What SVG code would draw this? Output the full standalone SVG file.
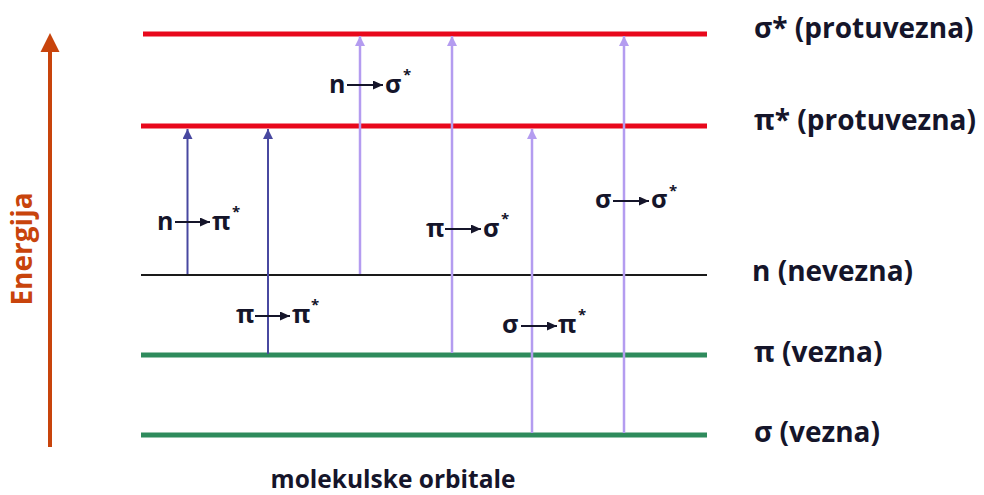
<svg xmlns="http://www.w3.org/2000/svg" width="984" height="495" viewBox="0 0 984 495">
<style>
  .lvl-red { stroke: #e8081c; stroke-width: 5; }
  .lvl-green { stroke: #2e8b5c; stroke-width: 5; }
  .lvl-black { stroke: #1a1a1a; stroke-width: 2; }
  .tr-dark { stroke: #4848a0; stroke-width: 2; fill: none; }
  .tr-light { stroke: #b49cf0; stroke-width: 2.5; fill: none; }
  .lbl { font-family: "Open Sans", "Liberation Sans", sans-serif; font-weight: bold; fill: #15152a; }
  .big { font-size: 28px; }
  .mid { font-size: 25px; }
  .star { font-size: 15px; }
  .mini { stroke: #15152a; stroke-width: 2; }
  .energy { font-family: "Open Sans", "Liberation Sans", sans-serif; font-weight: bold; font-size: 28px; fill: #c8440c; }
</style>
<defs>
  <marker id="headDark" markerUnits="userSpaceOnUse" markerWidth="10" markerHeight="10" refX="10" refY="5" orient="auto" viewBox="0 0 10 10">
    <path d="M0,0 L10,5 L0,10 z" fill="#4848a0"/>
  </marker>
  <marker id="headLight" markerUnits="userSpaceOnUse" markerWidth="10" markerHeight="10" refX="10" refY="5" orient="auto" viewBox="0 0 10 10">
    <path d="M0,0 L10,5 L0,10 z" fill="#b49cf0"/>
  </marker>
  <marker id="headMini" markerUnits="userSpaceOnUse" markerWidth="10" markerHeight="9" refX="10" refY="4.5" orient="auto" viewBox="0 0 10 9">
    <path d="M0,0 L10,4.5 L0,9 z" fill="#15152a"/>
  </marker>
</defs>

<g id="energy-axis">
  <line x1="50" y1="447" x2="50" y2="50" stroke="#c8440c" stroke-width="4"/>
  <path d="M50,33 L59.5,52 L40.5,52 z" fill="#c8440c"/>
  <text class="energy" transform="translate(32,249) rotate(-90)" text-anchor="middle">Energija</text>
</g>

<g id="level-sigma-star">
  <line class="lvl-red" x1="143" y1="34" x2="707" y2="34"/>
  <text class="lbl big" x="754" y="38">σ* (protuvezna)</text>
</g>
<g id="level-pi-star">
  <line class="lvl-red" x1="141" y1="126" x2="707" y2="126"/>
  <text class="lbl big" x="754" y="130">π* (protuvezna)</text>
</g>
<g id="level-n">
  <line class="lvl-black" x1="141" y1="275" x2="707" y2="275"/>
  <text class="lbl big" x="752" y="281">n (nevezna)</text>
</g>
<g id="level-pi">
  <line class="lvl-green" x1="141" y1="355" x2="707" y2="355"/>
  <text class="lbl big" x="754" y="362">π (vezna)</text>
</g>
<g id="level-sigma">
  <line class="lvl-green" x1="141" y1="435" x2="707" y2="435"/>
  <text class="lbl big" x="754" y="442">σ (vezna)</text>
</g>

<g id="connectors">
  <line class="tr-dark" x1="187.5" y1="274" x2="187.5" y2="129" marker-end="url(#headDark)"/>
  <line class="tr-dark" x1="268" y1="354" x2="268" y2="129" marker-end="url(#headDark)"/>
  <line class="tr-light" x1="360" y1="274" x2="360" y2="36" marker-end="url(#headLight)"/>
  <line class="tr-light" x1="452" y1="353" x2="452" y2="36" marker-end="url(#headLight)"/>
  <line class="tr-light" x1="532" y1="433" x2="532" y2="129" marker-end="url(#headLight)"/>
  <line class="tr-light" x1="624" y1="433" x2="624" y2="36" marker-end="url(#headLight)"/>
</g>

<g id="label-n-sigma">
  <text class="lbl mid" x="329" y="93">n</text>
  <line class="mini" x1="347" y1="85" x2="383" y2="85" marker-end="url(#headMini)"/>
  <text class="lbl mid" x="385" y="93">σ</text>
  <text class="lbl star" x="403" y="80">*</text>
</g>
<g id="label-n-pi">
  <text class="lbl mid" x="157" y="230">n</text>
  <line class="mini" x1="175" y1="222" x2="210" y2="222" marker-end="url(#headMini)"/>
  <text class="lbl mid" x="212" y="230">π</text>
  <text class="lbl star" x="232" y="217">*</text>
</g>
<g id="label-pi-sigma">
  <text class="lbl mid" x="426" y="237">π</text>
  <line class="mini" x1="445" y1="229" x2="481" y2="229" marker-end="url(#headMini)"/>
  <text class="lbl mid" x="483" y="237">σ</text>
  <text class="lbl star" x="501" y="224">*</text>
</g>
<g id="label-sigma-sigma">
  <text class="lbl mid" x="595" y="208">σ</text>
  <line class="mini" x1="613" y1="201" x2="649" y2="201" marker-end="url(#headMini)"/>
  <text class="lbl mid" x="651" y="208">σ</text>
  <text class="lbl star" x="669" y="196">*</text>
</g>
<g id="label-pi-pi">
  <text class="lbl mid" x="236" y="323">π</text>
  <line class="mini" x1="255" y1="316" x2="290" y2="316" marker-end="url(#headMini)"/>
  <text class="lbl mid" x="292" y="323">π</text>
  <text class="lbl star" x="311" y="310">*</text>
</g>
<g id="label-sigma-pi">
  <text class="lbl mid" x="502" y="333">σ</text>
  <line class="mini" x1="521" y1="326" x2="557" y2="326" marker-end="url(#headMini)"/>
  <text class="lbl mid" x="558" y="333">π</text>
  <text class="lbl star" x="578" y="320">*</text>
</g>

<g id="caption">
  <text class="lbl" x="393" y="488" text-anchor="middle" font-size="24.5">molekulske orbitale</text>
</g>
</svg>
